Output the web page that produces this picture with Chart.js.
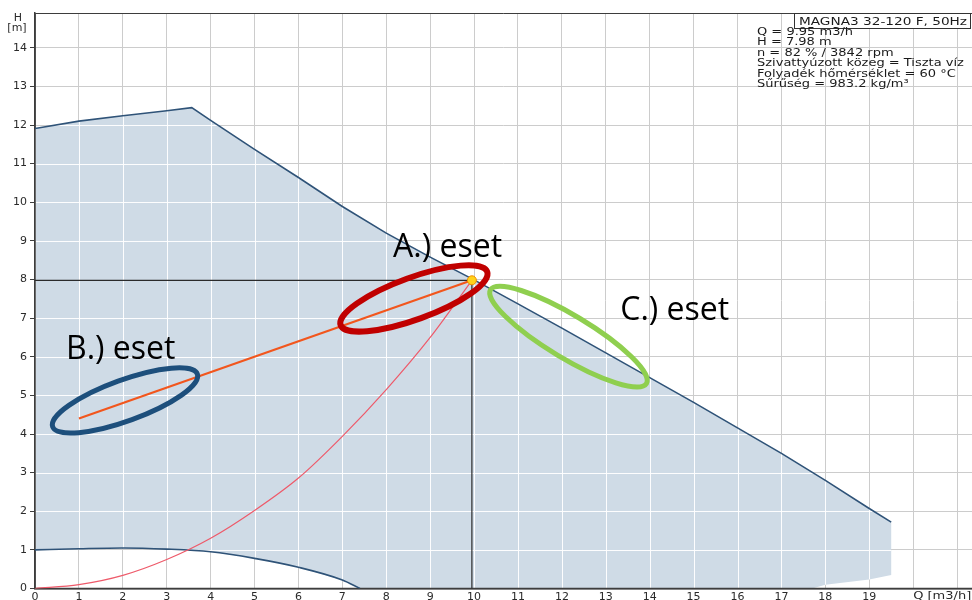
<!DOCTYPE html>
<html>
<head>
<meta charset="utf-8">
<script src="https://cdn.jsdelivr.net/npm/chart.js@4.4.1/dist/chart.umd.min.js"></script>
<style>
  html, body { margin: 0; padding: 0; background: #ffffff; }
  #wrap { width: 972px; height: 600px; position: relative; }
</style>
</head>
<body>
<div id="wrap"><canvas id="chart" width="972" height="600"></canvas></div>
<script>
// Maximum pump curve (upper limit of the operating range), Q [m3/h] / H [m]
const maxQ = [0, 1, 2, 3, 3.57, 4, 5, 6, 7, 8, 9, 10, 11, 12, 13, 14, 15, 16, 17, 18, 19, 19.5];
const maxH = [11.91, 12.1, 12.24, 12.37, 12.45, 12.12, 11.37, 10.64, 9.89, 9.2, 8.58, 7.99, 7.37, 6.74, 6.1, 5.46, 4.82, 4.16, 3.5, 2.8, 2.07, 1.72];

// Minimum pump curve
const minQ = [0, 1, 2, 3, 4, 5, 6, 7, 7.4];
const minH = [1.0, 1.03, 1.05, 1.02, 0.95, 0.78, 0.55, 0.22, 0];

// Lower edge of the operating range at high flow
const edgeQ = [17.7, 18, 19, 19.5];
const edgeH = [0, 0.1, 0.23, 0.35];

// System (pipe network) curve
const sysQ = [0, 1, 2, 3, 4, 5, 6, 7, 8, 9, 9.95];
const sysH = [0, 0.1, 0.34, 0.75, 1.3, 2.02, 2.86, 3.94, 5.15, 6.5, 7.98];

// Duty point
const dutyQ = [9.95];
const dutyH = [7.98];

// Proportional-pressure control line
const ctrlQ = [1, 9.95];
const ctrlH = [4.4, 7.98];

// Axis ticks
const xTickValues = [0, 1, 2, 3, 4, 5, 6, 7, 8, 9, 10, 11, 12, 13, 14, 15, 16, 17, 18, 19];
const xGridValues = [0, 1, 2, 3, 4, 5, 6, 7, 8, 9, 10, 11, 12, 13, 14, 15, 16, 17, 18, 19, 20, 21];
const yTickValues = [0, 1, 2, 3, 4, 5, 6, 7, 8, 9, 10, 11, 12, 13, 14];
const xMax = 21.34;
const yMax = 14.9;

// Texts
const pumpTitle = 'MAGNA3 32-120 F, 50Hz';
const infoLines = [
  'Q = 9.95 m3/h',
  'H = 7.98 m',
  'n = 82 % / 3842 rpm',
  'Szivattyúzott közeg = Tiszta víz',
  'Folyadék hőmérséklet = 60 °C',
  'Sűrűség = 983.2 kg/m³'
];
const caseLabels = ['A.) eset', 'B.) eset', 'C.) eset'];

const pts = (qs, hs) => qs.map((q, i) => ({ x: q, y: hs[i] }));

// closed outline of the operating range
const rangeOutline = pts(maxQ, maxH)
  .concat(pts(edgeQ, edgeH).reverse())
  .concat(pts(minQ, minH).reverse());

const crossLines = [
  { x: 0, y: dutyH[0] },
  { x: dutyQ[0], y: dutyH[0] },
  { x: dutyQ[0], y: 0 }
];

const GRID_GRAY = '#cccccc';
const AXIS_DARK = '#3d3d3d';
const FILL_BLUE = '#cfdbe6';
const CURVE_BLUE = '#2f5378';
const TEXT_DARK = '#2a2a2a';

// horizontally widened text, as used by the pump program's labels
function wideText(ctx, text, px, py, sx) {
  ctx.save();
  ctx.translate(px, py);
  ctx.scale(sx, 1);
  ctx.fillText(text, 0, 0);
  ctx.restore();
}

// white grid lines inside the operating range + axis lines redrawn over the fill
const rangeGridPlugin = {
  id: 'rangeGrid',
  afterDatasetDraw(chart, args) {
    if (chart.data.datasets[args.index].id !== 'range') return;
    const ctx = chart.ctx;
    const p = args.meta.data;
    const { x, y } = chart.scales;
    const area = chart.chartArea;
    ctx.save();
    ctx.beginPath();
    ctx.moveTo(p[0].x, p[0].y);
    for (let i = 1; i < p.length; i++) ctx.lineTo(p[i].x, p[i].y);
    ctx.closePath();
    ctx.clip();
    ctx.strokeStyle = 'rgba(255,255,255,0.95)';
    ctx.lineWidth = 1;
    ctx.beginPath();
    xGridValues.forEach(v => {
      const px = Math.round(x.getPixelForValue(v)) + 0.5;
      ctx.moveTo(px, area.top);
      ctx.lineTo(px, area.bottom);
    });
    yTickValues.forEach(v => {
      const py = Math.round(y.getPixelForValue(v)) + 0.5;
      ctx.moveTo(area.left, py);
      ctx.lineTo(area.right, py);
    });
    ctx.stroke();
    ctx.restore();

    ctx.save();
    ctx.strokeStyle = AXIS_DARK;
    ctx.lineWidth = 1.5;
    ctx.beginPath();
    ctx.moveTo(area.left, area.top);
    ctx.lineTo(area.left, area.bottom);
    ctx.lineTo(area.right, area.bottom);
    ctx.stroke();
    ctx.restore();
  }
};

// case markers (ellipses + labels), axis names and the pump info block
const notesPlugin = {
  id: 'notes',
  afterDraw(chart) {
    const ctx = chart.ctx;
    const { x, y } = chart.scales;
    const area = chart.chartArea;

    const rings = [
      { q: 8.63, h: 7.51, rx: 78, ry: 21, rot: -20, color: '#c00000', w: 6 },
      { q: 2.05, h: 4.87, rx: 77, ry: 20.5, rot: -20, color: '#1d4f7c', w: 5 },
      { q: 12.15, h: 6.52, rx: 91, ry: 21.5, rot: 31, color: '#8fcf4f', w: 5 }
    ];
    rings.forEach(r => {
      ctx.save();
      ctx.strokeStyle = r.color;
      ctx.lineWidth = r.w;
      ctx.beginPath();
      ctx.ellipse(x.getPixelForValue(r.q), y.getPixelForValue(r.h), r.rx, r.ry, r.rot * Math.PI / 180, 0, Math.PI * 2);
      ctx.stroke();
      ctx.restore();
    });

    const labelAnchors = [
      { q: 8.155, h: 8.58 },
      { q: 0.706, h: 5.93 },
      { q: 13.33, h: 6.95 }
    ];
    ctx.save();
    ctx.fillStyle = '#000000';
    ctx.font = '32px "Open Sans"';
    ctx.textAlign = 'left';
    ctx.textBaseline = 'alphabetic';
    caseLabels.forEach((t, i) => {
      ctx.fillText(t, x.getPixelForValue(labelAnchors[i].q), y.getPixelForValue(labelAnchors[i].h));
    });
    ctx.restore();

    // axis names
    ctx.save();
    ctx.fillStyle = TEXT_DARK;
    ctx.font = '11px "DejaVu Sans"';
    ctx.textAlign = 'center';
    ctx.textBaseline = 'alphabetic';
    ctx.fillText('H', 18, 21);
    ctx.fillText('[m]', 17, 31);
    ctx.textAlign = 'left';
    ctx.textBaseline = 'middle';
    ctx.font = '10px "DejaVu Sans"';
    wideText(ctx, 'Q [m3/h]', x.getPixelForValue(20), 596, 1.3);
    ctx.restore();

    // pump info block
    ctx.save();
    ctx.fillStyle = '#ffffff';
    ctx.fillRect(794, area.top, 176, 15);
    ctx.strokeStyle = '#333333';
    ctx.lineWidth = 1;
    ctx.strokeRect(794.5, area.top + 0.5, 176, 15);
    ctx.fillStyle = '#1a1a1a';
    ctx.font = '10.5px "DejaVu Sans"';
    ctx.textAlign = 'left';
    ctx.textBaseline = 'alphabetic';
    wideText(ctx, pumpTitle, 799, area.top + 12, 1.3);
    ctx.font = '10px "DejaVu Sans"';
    infoLines.forEach((t, i) => wideText(ctx, t, 757, 35 + i * 10.4, 1.3));
    ctx.restore();
  }
};

new Chart(document.getElementById('chart'), {
  type: 'line',
  data: {
    datasets: [
      {
        id: 'duty',
        data: pts(dutyQ, dutyH),
        showLine: false,
        pointRadius: 4.5,
        pointBackgroundColor: '#ffd21a',
        pointBorderColor: '#f08c00',
        pointBorderWidth: 1,
        order: 1
      },
      {
        id: 'control',
        data: pts(ctrlQ, ctrlH),
        borderColor: '#f2561d',
        borderWidth: 2.2,
        pointRadius: 0,
        tension: 0,
        order: 2
      },
      {
        id: 'cross',
        data: crossLines,
        borderColor: '#2b2b2b',
        borderWidth: 1.2,
        pointRadius: 0,
        tension: 0,
        order: 3
      },
      {
        id: 'system',
        data: pts(sysQ, sysH),
        borderColor: '#ee5a6a',
        borderWidth: 1.2,
        pointRadius: 0,
        cubicInterpolationMode: 'monotone',
        order: 4
      },
      {
        id: 'min',
        data: pts(minQ, minH),
        borderColor: CURVE_BLUE,
        borderWidth: 1.6,
        pointRadius: 0,
        cubicInterpolationMode: 'monotone',
        order: 5
      },
      {
        id: 'max',
        data: pts(maxQ, maxH),
        borderColor: CURVE_BLUE,
        borderWidth: 1.6,
        pointRadius: 0,
        tension: 0,
        order: 6
      },
      {
        id: 'range',
        data: rangeOutline,
        borderWidth: 0,
        borderColor: 'rgba(0,0,0,0)',
        backgroundColor: FILL_BLUE,
        fill: 'shape',
        pointRadius: 0,
        tension: 0,
        order: 7
      }
    ]
  },
  options: {
    responsive: false,
    animation: false,
    devicePixelRatio: 1,
    layout: { autoPadding: false, padding: { left: 0, top: 13, right: 0, bottom: 0 } },
    plugins: {
      legend: { display: false },
      tooltip: { enabled: false },
      title: { display: false }
    },
    scales: {
      x: {
        type: 'linear',
        min: 0,
        max: xMax,
        afterFit: s => { s.height = 11.5; s.paddingLeft = 0; s.paddingRight = 0; },
        afterBuildTicks: s => { s.ticks = xGridValues.map(v => ({ value: v })); },
        ticks: {
          autoSkip: false,
          maxRotation: 0,
          padding: 2,
          color: TEXT_DARK,
          font: { family: 'DejaVu Sans', size: 11 },
          callback: v => (xTickValues.includes(v) ? String(v) : '')
        },
        grid: { color: GRID_GRAY, lineWidth: 1, drawTicks: false, tickLength: 0 },
        border: { display: true, color: AXIS_DARK, width: 1.5 }
      },
      y: {
        type: 'linear',
        min: 0,
        max: yMax,
        afterFit: s => { s.width = 35; s.paddingTop = 0; s.paddingBottom = 0; },
        afterBuildTicks: s => { s.ticks = yTickValues.concat([yMax]).map(v => ({ value: v })); },
        ticks: {
          autoSkip: false,
          padding: 3,
          color: TEXT_DARK,
          font: { family: 'DejaVu Sans', size: 11 },
          callback: v => (yTickValues.includes(v) ? String(v) : '')
        },
        grid: {
          color: c => (c.tick && c.tick.value === yMax ? AXIS_DARK : GRID_GRAY),
          lineWidth: 1,
          drawTicks: true,
          tickLength: 5,
          tickColor: c => (c.tick && c.tick.value === yMax ? 'rgba(0,0,0,0)' : AXIS_DARK)
        },
        border: { display: true, color: AXIS_DARK, width: 1.5 }
      }
    }
  },
  plugins: [rangeGridPlugin, notesPlugin]
});
</script>
</body>
</html>
